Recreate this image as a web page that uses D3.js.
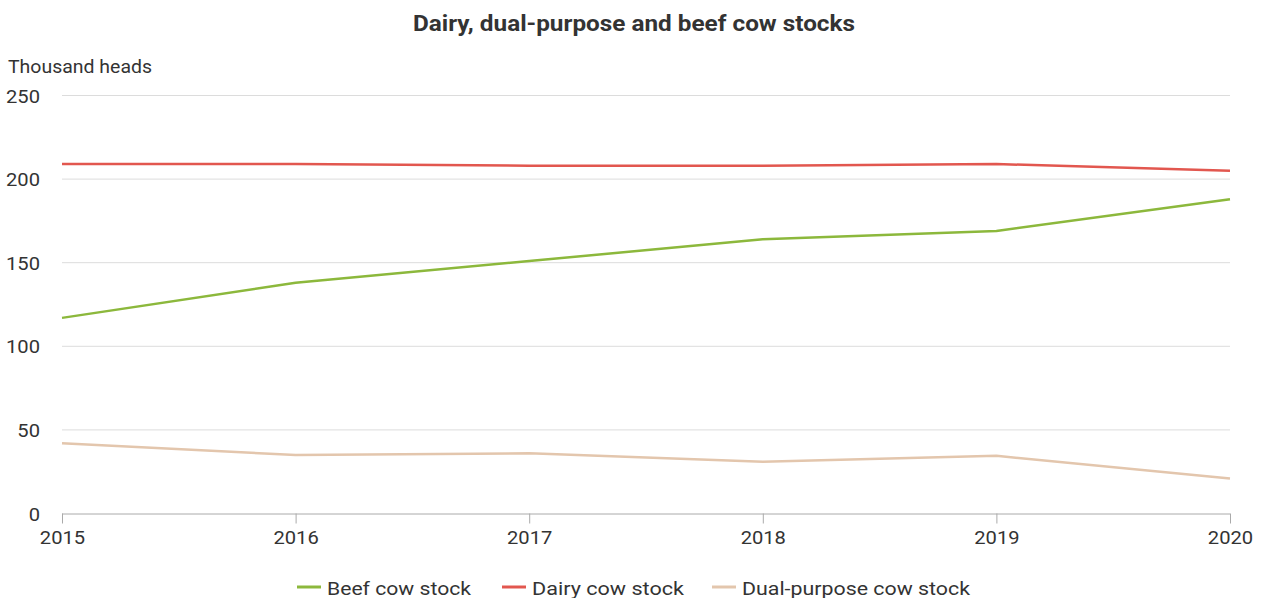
<!DOCTYPE html>
<html>
<head>
<meta charset="utf-8">
<script src="https://cdn.jsdelivr.net/npm/d3@7"></script>
<style>
  body { margin: 0; background: #fff; font-family: Roboto, sans-serif; }
  svg text { fill: #333; }
</style>
</head>
<body>
<svg width="1262" height="598"></svg>
<script>
// data
const years = [2015, 2016, 2017, 2018, 2019, 2020];
const beef = [117, 138, 151, 164, 169, 188];
const dairy = [209, 209, 208, 208, 209, 205];
const dualPurpose = [42, 35, 36, 31, 34.5, 21];
const yTicks = [0, 50, 100, 150, 200, 250];

const series = [
  { name: 'Beef cow stock', values: beef, color: '#8cb83c' },
  { name: 'Dairy cow stock', values: dairy, color: '#e2574f' },
  { name: 'Dual-purpose cow stock', values: dualPurpose, color: '#e3c6ad' }
];

const svg = d3.select('svg');
const plotLeft = 62, plotRight = 1230, plotTop = 95.5, plotBottom = 513.5;
const stretch = 1.12; // text in the reference is a little wider than plain Roboto

const x = d3.scaleLinear().domain([2015, 2020]).range([plotLeft, plotRight]);
const y = d3.scaleLinear().domain([0, 250]).range([plotBottom, plotTop]);

// title
svg.append('text')
  .attr('x', 634).attr('y', 31)
  .attr('text-anchor', 'middle')
  .attr('textLength', 442).attr('lengthAdjust', 'spacingAndGlyphs')
  .style('font-size', '22px').style('font-weight', 'bold')
  .text('Dairy, dual-purpose and beef cow stocks');

svg.append('text')
  .attr('x', 8).attr('y', 73)
  .attr('textLength', 144).attr('lengthAdjust', 'spacingAndGlyphs')
  .style('font-size', '18px')
  .text('Thousand heads');

// gridlines
svg.append('g')
  .selectAll('line')
  .data(yTicks.filter(d => d > 0))
  .join('line')
  .attr('x1', plotLeft).attr('x2', plotRight)
  .attr('y1', d => y(d)).attr('y2', d => y(d))
  .style('stroke', '#dcdcdc').style('stroke-width', 1);

// y labels
svg.append('g')
  .selectAll('g')
  .data(yTicks)
  .join('g')
  .attr('transform', d => `translate(40,${y(d) + 7})`)
  .append('text')
  .attr('text-anchor', 'end')
  .attr('transform', `scale(${stretch},1)`)
  .style('font-size', '18px')
  .text(d => d);

// x axis
const xAxis = d3.axisBottom(x)
  .tickValues(years)
  .tickFormat(d3.format('d'))
  .tickSize(10)
  .tickPadding(8);

const gx = svg.append('g')
  .attr('transform', `translate(0,${plotBottom})`)
  .call(xAxis);
gx.select('.domain').attr('stroke', '#aaa').attr('d', `M${plotLeft},0.5H${plotRight}`);
gx.selectAll('.tick line').attr('stroke', '#aaa');
gx.selectAll('.tick text')
  .attr('transform', `scale(${stretch},1)`)
  .style('font-size', '18px').style('fill', '#333').style('font-family', 'Roboto, sans-serif');

// lines
const line = d3.line()
  .x((d, i) => x(years[i]))
  .y(d => y(d));

svg.append('g')
  .selectAll('path')
  .data(series)
  .join('path')
  .attr('d', d => line(d.values))
  .style('fill', 'none')
  .style('stroke', d => d.color)
  .style('stroke-width', 2.5)
  .style('stroke-linejoin', 'round');

// legend
const legendX = [297, 502, 712];
const legendW = [144, 152, 228];
const legend = svg.append('g')
  .selectAll('g')
  .data(series)
  .join('g')
  .attr('transform', (d, i) => `translate(${legendX[i]},587)`);

legend.append('line')
  .attr('x1', 0).attr('x2', 24)
  .style('stroke', d => d.color)
  .style('stroke-width', 3);

legend.append('text')
  .attr('x', 30).attr('y', 7.5)
  .attr('textLength', (d, i) => legendW[i]).attr('lengthAdjust', 'spacingAndGlyphs')
  .style('font-size', '19px')
  .text(d => d.name);
</script>
</body>
</html>
